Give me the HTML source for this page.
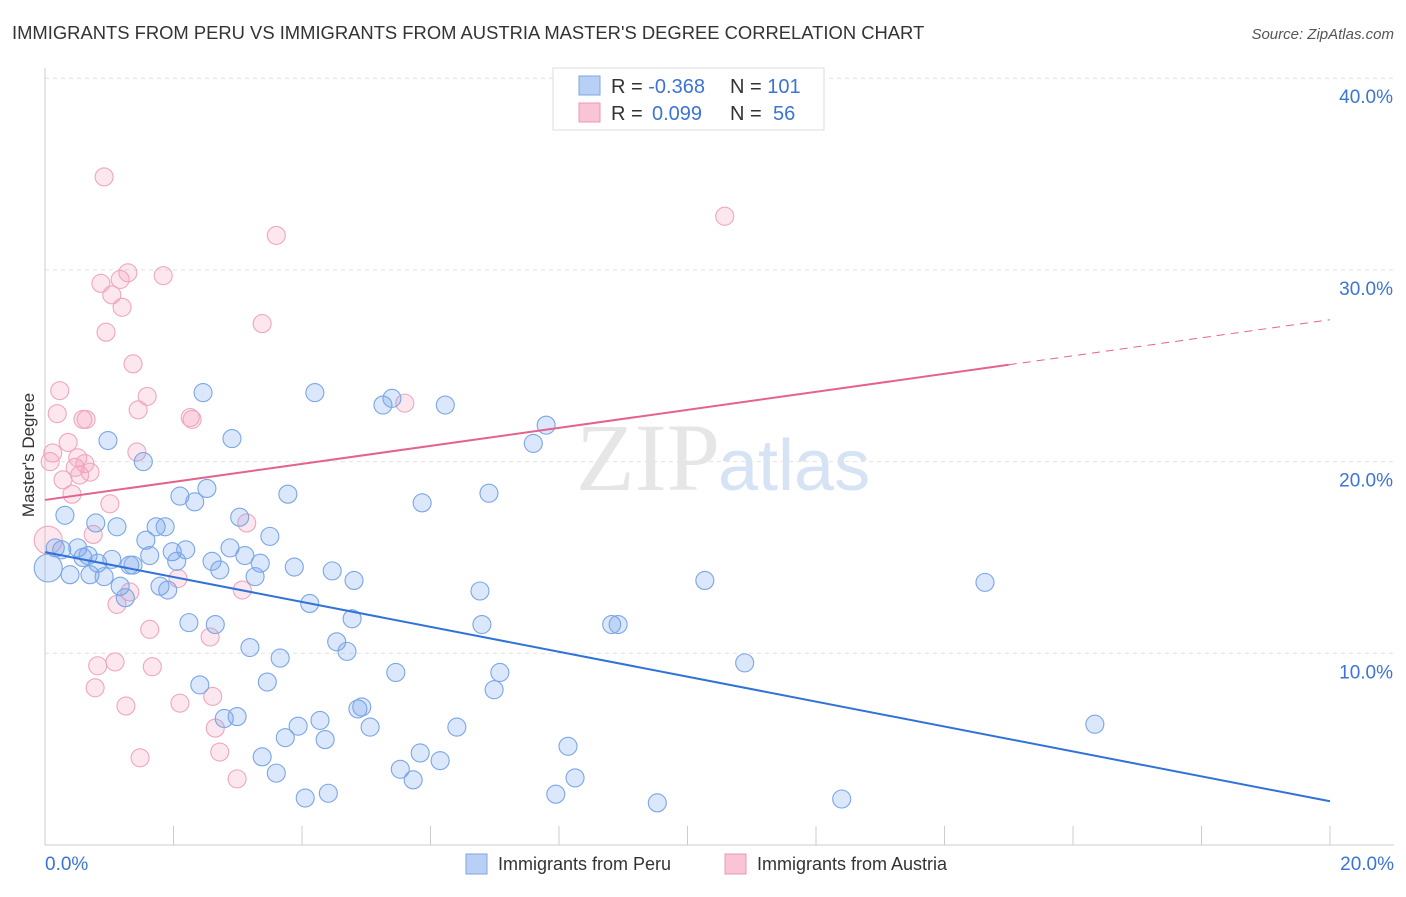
<!DOCTYPE html>
<html><head><meta charset="utf-8"><style>
body{margin:0;background:#fff;font-family:"Liberation Sans",sans-serif;}
</style></head><body>
<svg id="c" width="1406" height="892" xmlns="http://www.w3.org/2000/svg" style="font-family:'Liberation Sans',sans-serif">
<text x="12" y="39" font-size="18.4" fill="#333">IMMIGRANTS FROM PERU VS IMMIGRANTS FROM AUSTRIA MASTER'S DEGREE CORRELATION CHART</text>
<text x="1394" y="39" font-size="15" fill="#555" font-style="italic" text-anchor="end">Source: ZipAtlas.com</text>
<text x="720" y="490" font-size="96" fill="#e6e6e6" text-anchor="end" font-family="Liberation Serif">ZIP</text>
<text x="718" y="490" font-size="72" fill="#d6e3f5">atlas</text>
<g id="grid"></g><g id="axes"></g><g id="pts"></g><g id="trend"></g>
<text transform="translate(34,455) rotate(-90)" font-size="17" fill="#333" text-anchor="middle">Master's Degree</text>
<g>
<rect x="553" y="68" width="271" height="62" fill="#fff" stroke="#ddd"/>
<rect x="579" y="76" width="21" height="19" fill="#b8d0f5" stroke="#7fa6e0"/>
<rect x="579" y="103" width="21" height="19" fill="#f9c4d4" stroke="#ec9ab4"/>
<text x="611" y="93" font-size="20" fill="#333">R = <tspan fill="#3b74d6">-0.368</tspan></text>
<text x="730" y="93" font-size="20" fill="#333">N = <tspan fill="#3b74d6">101</tspan></text>
<text x="611" y="120" font-size="20" fill="#333">R = <tspan fill="#3b74d6" x="652">0.099</tspan></text>
<text x="730" y="120" font-size="20" fill="#333">N = <tspan fill="#3b74d6" x="773">56</tspan></text>
</g>
<g>
<rect x="466" y="854" width="21" height="20" fill="#b8d0f5" stroke="#7fa6e0"/>
<text x="498" y="870" font-size="18" fill="#333">Immigrants from Peru</text>
<rect x="725" y="854" width="21" height="20" fill="#f9c4d4" stroke="#ec9ab4"/>
<text x="757" y="870" font-size="18" fill="#333">Immigrants from Austria</text>
</g>
</svg>
<script>
const xTicks=[0,2,4,6,8,10,12,14,16,18,20];
const yTicks=[10,20,30,40];
const peruX=[.05,.16,.26,.31,.39,.51,.59,.67,.70,.79,.82,.92,.98,1.04,1.12,1.17,1.25,1.32,1.37,1.53,1.57,1.63,1.73,1.79,1.87,1.91,1.98,2.05,2.10,2.19,2.24,2.33,2.41,2.46,2.52,2.60,2.65,2.72,2.79,2.88,2.91,2.99,3.03,3.11,3.19,3.27,3.35,3.38,3.46,3.50,3.60,3.66,3.74,3.78,3.88,3.94,4.05,4.12,4.20,4.28,4.36,4.41,4.47,4.54,4.70,4.78,4.81,4.87,4.93,5.06,5.26,5.40,5.46,5.53,5.73,5.84,5.87,6.15,6.23,6.41,6.77,6.80,6.91,6.99,7.08,7.60,7.80,7.95,8.14,8.25,8.82,8.92,9.53,10.27,10.89,12.40,14.63,16.34];
const peruY=[14.45,15.5,15.4,17.2,14.1,15.5,15.0,15.1,14.1,16.8,14.7,14.0,21.1,14.9,16.6,13.5,12.9,14.6,14.6,20.0,15.9,15.1,16.6,13.5,16.6,13.3,15.3,14.8,18.2,15.4,11.6,17.9,8.35,23.6,18.6,14.8,11.5,14.35,6.6,15.5,21.2,6.7,17.1,15.1,10.3,14.0,14.7,4.6,8.5,16.1,3.75,9.75,5.6,18.3,14.5,6.2,2.45,12.6,23.6,6.5,5.5,2.7,14.3,10.6,10.1,11.8,13.8,7.1,7.2,6.15,22.95,23.3,9.0,3.95,3.4,4.8,17.85,4.4,22.95,6.15,13.25,11.5,18.35,8.1,9.0,20.95,21.9,2.65,5.15,3.5,11.5,11.5,2.2,13.8,9.5,2.4,13.7,6.3];
const austX=[.05,.08,.12,.19,.23,.28,.36,.42,.47,.51,.54,.59,.64,.62,.70,.75,.78,.82,.87,.92,.95,1.01,1.04,1.09,1.12,1.17,1.20,1.26,1.29,1.32,1.37,1.43,1.45,1.48,1.59,1.63,1.67,1.84,2.07,2.10,2.26,2.29,2.57,2.61,2.65,2.72,2.99,3.07,3.14,3.38,3.60,5.60,10.58];
const austY=[15.9,20.0,20.45,22.5,23.7,19.05,21.0,18.3,19.7,20.2,19.3,22.2,22.2,19.9,19.45,16.2,8.2,9.35,29.3,34.85,26.75,17.8,28.7,9.55,12.55,29.5,28.05,7.25,29.85,13.2,25.1,20.5,22.7,4.55,23.4,11.25,9.3,29.7,13.9,7.4,22.3,22.2,10.85,7.75,6.1,4.85,3.45,13.3,16.8,27.2,31.8,23.05,32.8];
const peruTrend=[15.28,2.28];   // y at x=0, x=20
const austTrend=[18.0,27.4];    // y at x=0, x=20
const austSolidEnd=15.0;
const X=v=>45+v*64.25, Y=v=>845-v*19.17;
const NS="http://www.w3.org/2000/svg";
function mk(p,t,a){const e=document.createElementNS(NS,t);for(const k in a)e.setAttribute(k,a[k]);p.appendChild(e);return e;}
const grid=document.getElementById('grid'),axes=document.getElementById('axes'),pts=document.getElementById('pts'),tr=document.getElementById('trend');
yTicks.forEach(t=>{const l=mk(grid,'line',{x1:45,x2:1394,y1:Y(t),y2:Y(t),stroke:'#e2e2e2','stroke-dasharray':'4,4'});


const tx=mk(axes,'text',{x:1393,y:Y(t)+25,'font-size':19,fill:'#3b74d6','text-anchor':'end'});tx.textContent=t.toFixed(1)+'%';

});
const ax=mk(axes,'line',{x1:45,x2:45,y1:68,y2:845,stroke:'#ccc'});


const bx=mk(axes,'line',{x1:45,x2:1394,y1:845,y2:845,stroke:'#ccc'});


xTicks.forEach(t=>{const l=mk(axes,'line',{x1:X(t),x2:X(t),y1:826,y2:845,stroke:'#ccc'});

});
[[0,'start',45],[20,'end',1394]].forEach(([v,a,px])=>{const tx=mk(axes,'text',{x:px,y:870,'font-size':19,fill:'#3b74d6','text-anchor':a});tx.textContent=v.toFixed(1)+'%';

});
function dots(xs,ys,fill,stroke,name){xs.forEach((x,i)=>{const c=mk(pts,'circle',{cx:X(x),cy:Y(ys[i]),r:i==0?14:9,fill:fill,stroke:stroke,'stroke-width':1.1});

});}
dots(austX,austY,'rgba(244,160,188,0.25)','#f0a6be','austria-point');
dots(peruX,peruY,'rgba(110,160,235,0.25)','#7aa6e6','peru-point');
const lp=mk(tr,'line',{x1:X(0),y1:Y(peruTrend[0]),x2:X(20),y2:Y(peruTrend[1]),stroke:'#2f72d8','stroke-width':2});


const ym=austTrend[0]+(austTrend[1]-austTrend[0])*austSolidEnd/20;
const la=mk(tr,'line',{x1:X(0),y1:Y(austTrend[0]),x2:X(austSolidEnd),y2:Y(ym),stroke:'#e4638e','stroke-width':2});


const ld=mk(tr,'line',{x1:X(austSolidEnd),y1:Y(ym),x2:X(20),y2:Y(austTrend[1]),stroke:'#e4638e','stroke-width':1,'stroke-dasharray':'8,6'});


</script>
</body></html>
